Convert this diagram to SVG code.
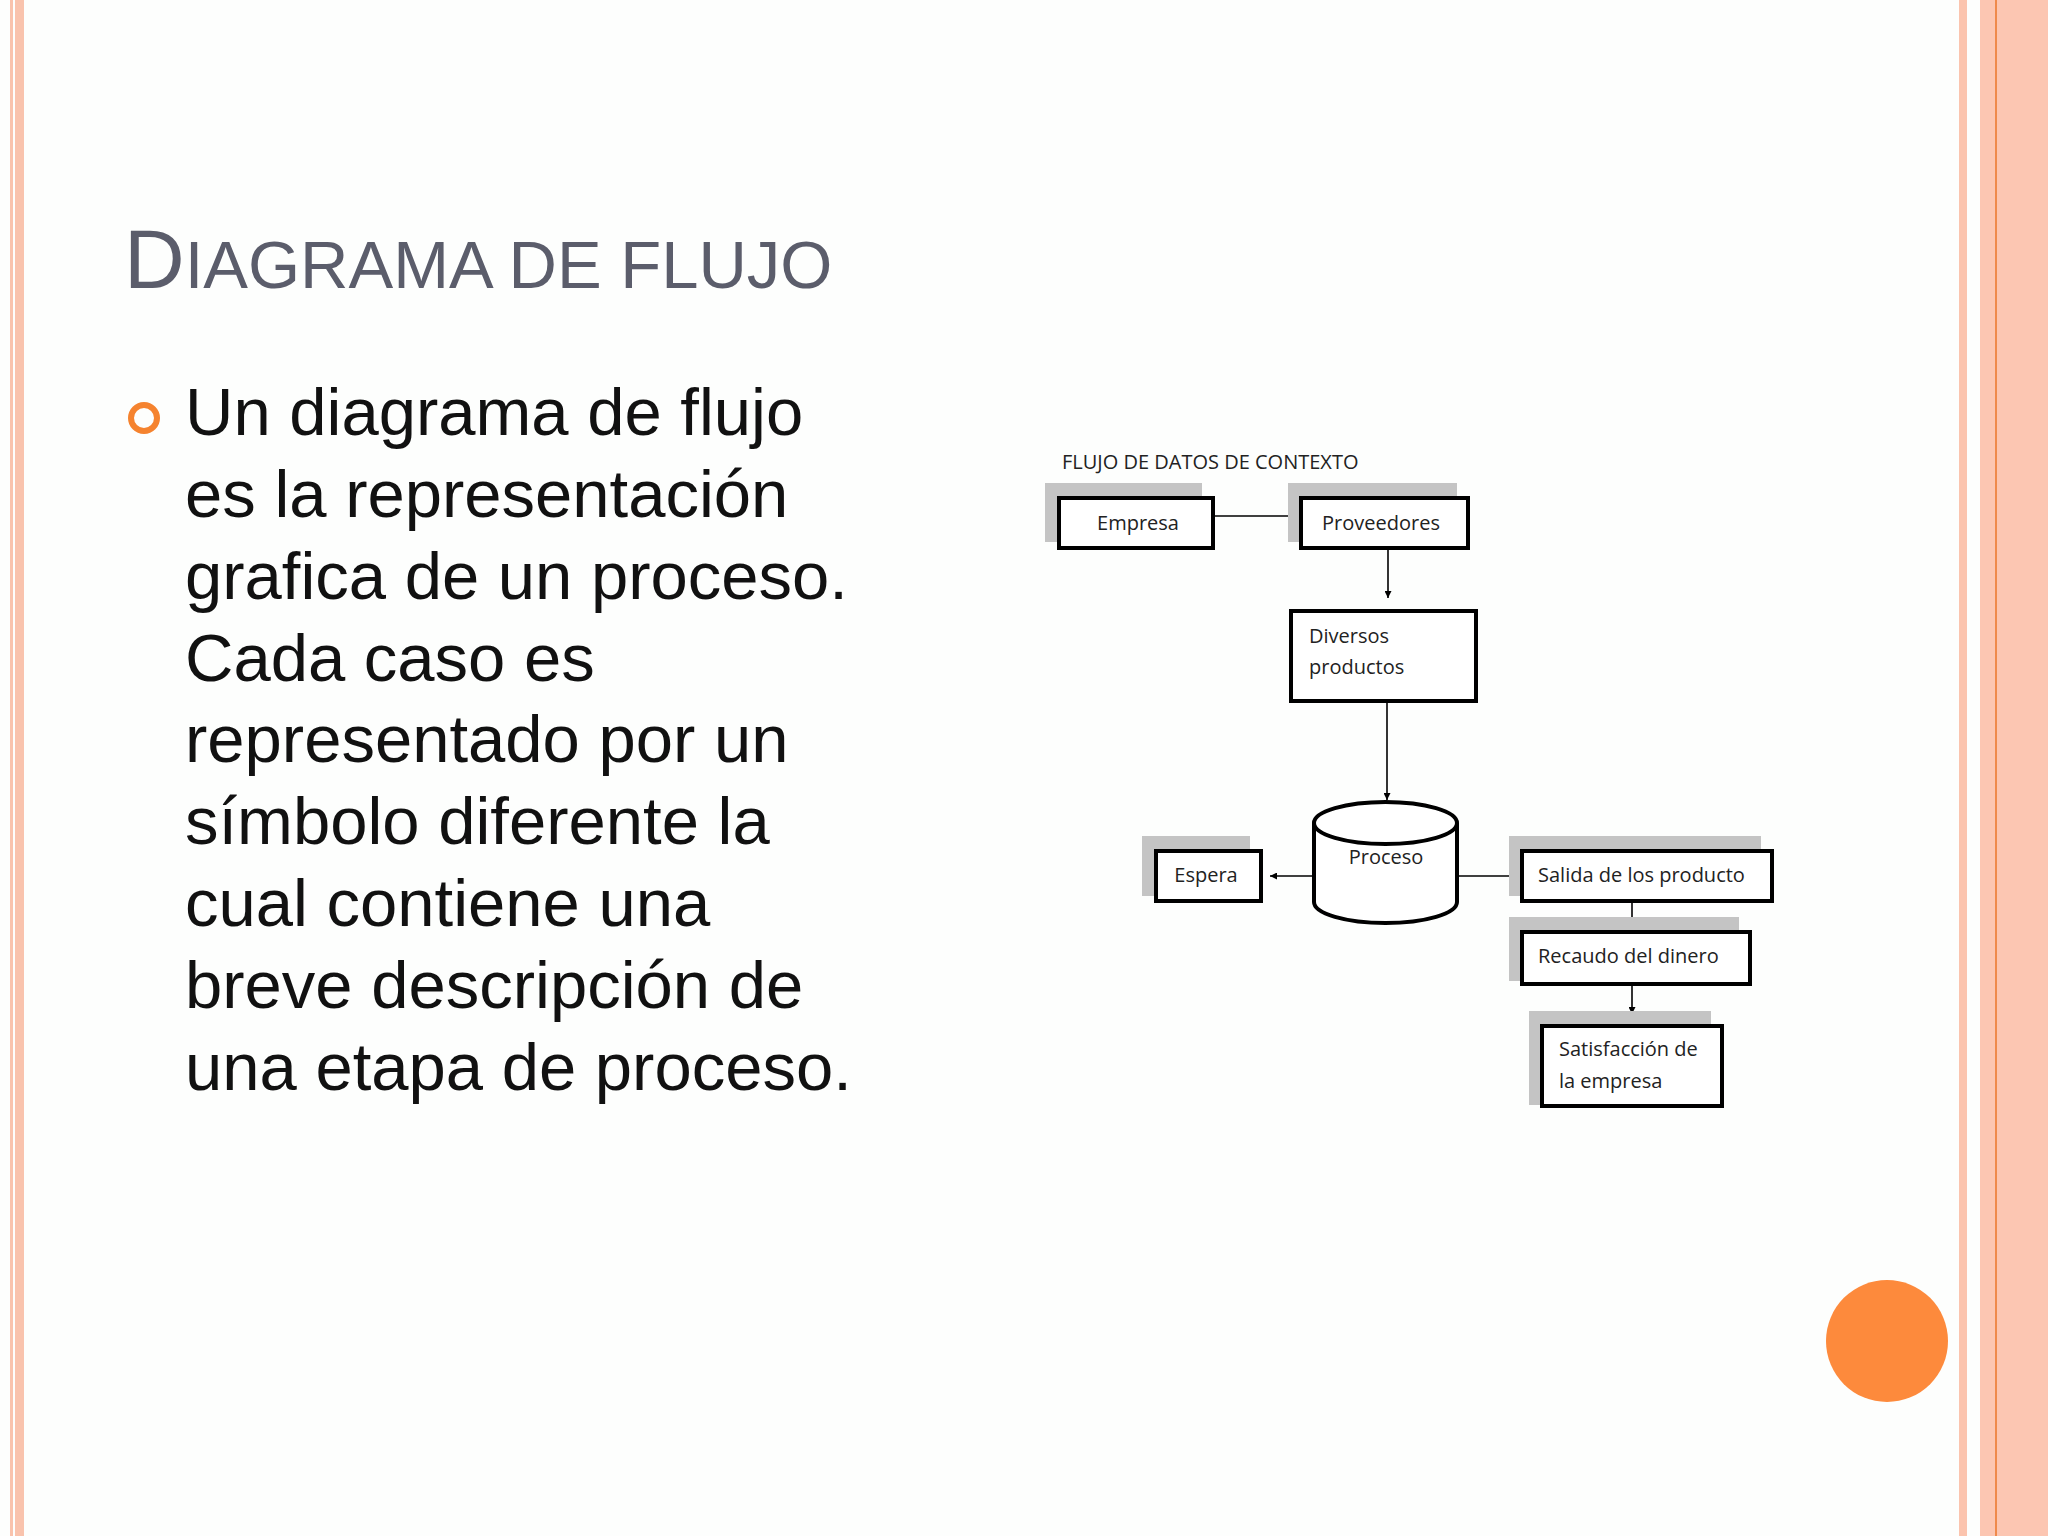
<svg xmlns="http://www.w3.org/2000/svg" width="2048" height="1536" viewBox="0 0 2048 1536">
<style>
.box{fill:#fff;stroke:#000;stroke-width:4}
.sh{fill:#c4c4c4}
.lbl{font-family:"Open Sans","Noto Sans",sans-serif;font-size:20px;fill:#222}
.ln{stroke:#000;stroke-width:1.6;fill:none}
.body{font-family:"Liberation Sans",Arial,sans-serif;font-size:67px;fill:#111}
</style>
<defs><marker id="ah" viewBox="0 0 10 10" refX="10" refY="5" markerWidth="7" markerHeight="7" markerUnits="userSpaceOnUse" orient="auto"><path d="M0,0L10,5L0,10z" fill="#000"/></marker></defs>
<rect width="2048" height="1536" fill="#fdfefd"/>
<rect x="10" y="0" width="3" height="1536" fill="#f9c3ad"/>
<rect x="15" y="0" width="9" height="1536" fill="#f9c3ad"/>
<rect x="1959" y="0" width="8" height="1536" fill="#fbc4ae"/>
<rect x="1980" y="0" width="68" height="1536" fill="#fcc6b2"/>
<rect x="1995" y="0" width="2" height="1536" fill="#ef8a4c"/>
<text x="124" y="288" font-family="Liberation Sans,Arial,sans-serif" fill="#5b5d6b"><tspan font-size="84">D</tspan><tspan font-size="67">IAGRAMA DE FLUJO</tspan></text>
<circle cx="144" cy="418" r="13" fill="none" stroke="#f5832f" stroke-width="6"/>
<text class="body" x="185" y="435">Un diagrama de flujo</text>
<text class="body" x="185" y="517">es la representación</text>
<text class="body" x="185" y="599">grafica de un proceso.</text>
<text class="body" x="185" y="681">Cada caso es</text>
<text class="body" x="185" y="762">representado por un</text>
<text class="body" x="185" y="844">símbolo diferente la</text>
<text class="body" x="185" y="926">cual contiene una</text>
<text class="body" x="185" y="1008">breve descripción de</text>
<text class="body" x="185" y="1090">una etapa de proceso.</text>
<circle cx="1887" cy="1341" r="61" fill="#fd8a3c"/>
<text class="lbl" x="1062" y="469" font-size="19">FLUJO DE DATOS DE CONTEXTO</text>
<g id="connectors">
<line class="ln" x1="1213" y1="516" x2="1299" y2="516" marker-end="url(#ah)"/>
<line class="ln" x1="1388" y1="550" x2="1388" y2="598" marker-end="url(#ah)"/>
<line class="ln" x1="1387" y1="703" x2="1387" y2="800" marker-end="url(#ah)"/>
<line class="ln" x1="1314" y1="876" x2="1270" y2="876" marker-end="url(#ah)"/>
<line class="ln" x1="1457" y1="876" x2="1521" y2="876" marker-end="url(#ah)"/>
<line class="ln" x1="1632" y1="903" x2="1632" y2="934" marker-end="url(#ah)"/>
<line class="ln" x1="1632" y1="985" x2="1632" y2="1014" marker-end="url(#ah)"/>
</g>
<g id="empresa"><rect class="sh" x="1045" y="483" width="157" height="59"/><rect class="box" x="1059" y="498" width="154" height="50"/><text class="lbl" x="1138" y="530" text-anchor="middle">Empresa</text></g>
<g id="proveedores"><rect class="sh" x="1288" y="483" width="169" height="59"/><rect class="box" x="1301" y="498" width="167" height="50"/><text class="lbl" x="1381" y="530" text-anchor="middle">Proveedores</text></g>
<g id="diversos"><rect class="box" x="1291" y="611" width="185" height="90"/><text class="lbl" x="1309" y="643">Diversos</text><text class="lbl" x="1309" y="674">productos</text></g>
<g id="proceso"><path d="M1314,823 L1314,902 A71.5,21 0 0 0 1457,902 L1457,823" fill="#fff" stroke="#000" stroke-width="4"/><ellipse cx="1385.5" cy="823" rx="71.5" ry="21" fill="#fff" stroke="#000" stroke-width="4"/><text class="lbl" x="1386" y="864" text-anchor="middle">Proceso</text></g>
<g id="espera"><rect class="sh" x="1142" y="836" width="108" height="60"/><rect class="box" x="1156" y="851" width="105" height="50"/><text class="lbl" x="1206" y="882" text-anchor="middle">Espera</text></g>
<g id="salida"><rect class="sh" x="1509" y="836" width="252" height="60"/><rect class="box" x="1522" y="851" width="250" height="50"/><text class="lbl" x="1538" y="882">Salida de los producto</text></g>
<g id="recaudo"><rect class="sh" x="1509" y="917" width="230" height="64"/><rect class="box" x="1522" y="932" width="228" height="52"/><text class="lbl" x="1538" y="963">Recaudo del dinero</text></g>
<g id="satisfaccion"><rect class="sh" x="1529" y="1011" width="182" height="94"/><rect class="box" x="1542" y="1026" width="180" height="80"/><text class="lbl" x="1559" y="1056">Satisfacción de</text><text class="lbl" x="1559" y="1088">la empresa</text></g>
</svg>
